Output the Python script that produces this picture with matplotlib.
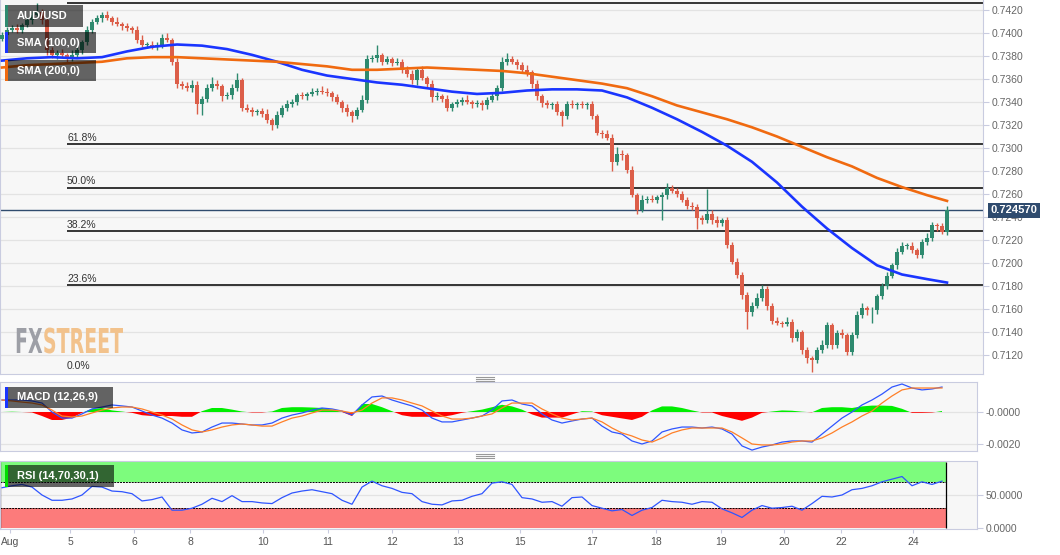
import numpy as np
import matplotlib.pyplot as plt
from matplotlib.patches import Rectangle, PathPatch
from matplotlib.lines import Line2D
from matplotlib.textpath import TextPath
from matplotlib.font_manager import FontProperties
import matplotlib.transforms as mtrans

plt.rcParams['font.family'] = ['Liberation Sans', 'DejaVu Sans']

# AUD/USD candles (closes, in pips = price * 1e4), open = previous close
first_open = 7395
close_pips = [
    7398, 7403, 7404, 7403, 7407, 7411, 7416, 7418, 7411, 7385,
    7381, 7383, 7381, 7378, 7381, 7385, 7392, 7403, 7410, 7413,
    7416, 7413, 7410, 7408, 7406, 7404, 7403, 7394, 7390, 7390,
    7388, 7390, 7396, 7394, 7375, 7356, 7354, 7352, 7355, 7338,
    7343, 7352, 7356, 7354, 7345, 7346, 7352, 7359, 7335, 7333,
    7331, 7332, 7330, 7324, 7320, 7329, 7335, 7338, 7340, 7346,
    7345, 7347, 7349, 7350, 7349, 7348, 7344, 7340, 7335, 7331,
    7328, 7333, 7342, 7377, 7378, 7381, 7375, 7377, 7374, 7375,
    7368, 7364, 7359, 7368, 7361, 7356, 7344, 7345, 7343, 7335,
    7338, 7340, 7342, 7340, 7338, 7339, 7337, 7342, 7345, 7352,
    7375, 7377, 7375, 7372, 7368, 7366, 7356, 7345, 7339, 7337,
    7338, 7331, 7328, 7338, 7337, 7338, 7337, 7338, 7328, 7313,
    7312, 7309, 7288, 7295, 7294, 7281, 7259, 7246, 7255, 7256,
    7255, 7257, 7259, 7265, 7263, 7260, 7255, 7250, 7249, 7239,
    7237, 7243, 7237, 7235, 7237, 7216, 7201, 7190, 7172, 7157,
    7163, 7170, 7177, 7163, 7150, 7148, 7147, 7149, 7135, 7140,
    7124, 7117, 7116, 7124, 7129, 7146, 7129, 7139, 7137, 7123,
    7137, 7155, 7161, 7159, 7159, 7171, 7180, 7189, 7198, 7210,
    7215, 7215, 7211, 7207, 7218, 7222, 7233, 7232, 7227, 7246,
]
wick_up = [
    3, 2, 3, 4, 2, 3, 3, 8, 3, 2,
    3, 2, 3, 2, 4, 3, 2, 3, 2, 3,
    2, 3, 2, 4, 2, 3, 2, 3, 4, 2,
    3, 2, 3, 4, 2, 3, 2, 3, 4, 3,
    2, 4, 6, 3, 2, 3, 4, 6, 2, 3,
    3, 2, 3, 4, 2, 3, 2, 4, 3, 2,
    3, 2, 3, 2, 4, 3, 2, 3, 2, 3,
    2, 3, 4, 4, 3, 9, 2, 3, 2, 3,
    2, 3, 4, 2, 3, 2, 3, 4, 2, 3,
    2, 3, 2, 4, 2, 3, 3, 2, 3, 3,
    4, 6, 3, 2, 3, 4, 2, 3, 2, 3,
    2, 3, 2, 3, 4, 2, 3, 2, 3, 2,
    3, 4, 3, 6, 3, 2, 3, 2, 4, 2,
    3, 2, 3, 5, 3, 2, 3, 2, 3, 2,
    3, 21, 3, 4, 2, 3, 2, 3, 2, 3,
    3, 4, 4, 3, 2, 3, 2, 4, 2, 3,
    2, 3, 2, 3, 4, 3, 2, 3, 4, 2,
    3, 3, 4, 2, 3, 2, 3, 3, 2, 3,
    3, 2, 3, 2, 3, 4, 3, 2, 3, 4,
]
wick_dn = [
    2, 3, 2, 3, 3, 2, 3, 2, 3, 4,
    3, 4, 2, 3, 2, 3, 3, 2, 3, 2,
    3, 2, 3, 2, 3, 2, 3, 3, 2, 3,
    2, 3, 3, 2, 3, 4, 3, 2, 3, 8,
    9, 3, 2, 3, 4, 2, 3, 2, 3, 2,
    3, 2, 3, 2, 4, 3, 2, 3, 2, 3,
    2, 3, 2, 3, 2, 3, 3, 2, 4, 3,
    5, 3, 2, 3, 2, 3, 3, 2, 3, 2,
    3, 2, 3, 4, 2, 3, 4, 2, 3, 3,
    3, 2, 3, 2, 3, 2, 4, 3, 2, 3,
    2, 3, 2, 3, 2, 3, 4, 3, 3, 2,
    3, 2, 9, 3, 2, 3, 2, 3, 3, 2,
    3, 2, 8, 3, 4, 3, 2, 3, 2, 3,
    2, 3, 20, 3, 2, 3, 2, 3, 3, 9,
    3, 2, 3, 4, 3, 3, 2, 3, 3, 14,
    3, 2, 3, 4, 3, 2, 3, 2, 4, 3,
    3, 4, 11, 3, 2, 3, 4, 3, 2, 3,
    3, 2, 3, 4, 11, 3, 2, 3, 2, 3,
    2, 3, 2, 3, 3, 2, 3, 4, 2, 3,
]

# moving averages, one value every 5 candles (last one on the last candle)
sma100_pips = [7376, 7378, 7379, 7378, 7379, 7384, 7388, 7390, 7389, 7386,
               7381, 7375, 7368, 7363, 7360, 7357, 7355, 7352, 7349, 7347,
               7348, 7350, 7351, 7351, 7350, 7344, 7335, 7325, 7314, 7302,
               7288, 7270, 7249, 7230, 7213, 7198, 7190, 7186, 7183]
sma200_pips = [7370, 7372, 7373, 7374, 7375, 7378, 7379, 7379, 7378, 7377,
               7376, 7375, 7373, 7371, 7368, 7368, 7369, 7370, 7369, 7368,
               7367, 7365, 7362, 7359, 7356, 7352, 7345, 7337, 7331, 7325,
               7318, 7310, 7301, 7292, 7284, 7274, 7266, 7259, 7254]

# indicators, one value every 2 candles (MACD values x 1e-4)
macd_line = [7.5, 7.5, 7.5, 6.9, 5.6, 0, -3.8, -3.8, -1.2, 1.9,
             3.1, 4.4, 3.8, 3.1, 0.6, -1.9, -3.8, -6.9, -11.2, -13.1,
             -12.5, -9.4, -6.9, -6.9, -7.5, -8.1, -8.1, -6.9, -3.8, -1.9,
             -0.6, 1.2, 2.5, 1.9, 0.6, -1.9, 4.4, 9.4, 10.0, 7.5,
             5.6, 3.8, 1.2, -3.8, -6.2, -6.2, -5.0, -3.8, -2.5, 1.2,
             6.9, 7.5, 5.0, 3.8, -1.2, -5.0, -6.9, -5.6, -4.4, -3.8,
             -8.8, -12.5, -13.8, -18.1, -20.0, -18.1, -12.5, -10.6, -9.4, -9.4,
             -10.0, -9.4, -10.6, -13.8, -21.2, -23.8, -21.9, -20.6, -18.8, -18.1,
             -18.1, -18.8, -13.8, -8.8, -3.8, 0, 4.4, 7.5, 11.2, 15.6,
             17.5, 15.0, 13.8, 14.4, 15.6]
signal_line = [7.5, 6.9, 6.2, 5.6, 4.4, 1.2, -2.5, -3.1, -2.5, -0.6,
               1.2, 2.5, 3.1, 3.1, 1.9, 0, -1.9, -4.4, -8.1, -11.2,
               -12.5, -11.2, -9.4, -8.1, -7.5, -8.1, -8.8, -8.8, -6.2, -3.8,
               -2.5, -0.6, 1.2, 1.2, 0.6, -0.6, 1.2, 5.6, 8.8, 8.8,
               7.5, 5.6, 3.8, 0.6, -2.5, -4.4, -4.4, -3.8, -2.5, -1.2,
               2.5, 5.6, 5.6, 5.6, 1.9, -1.2, -3.8, -5.0, -4.4, -3.8,
               -6.2, -10.0, -13.1, -15.0, -17.5, -18.8, -16.2, -13.1, -11.2, -10.0,
               -10.0, -10.0, -10.0, -12.5, -16.2, -20.0, -20.6, -20.6, -20.0, -18.8,
               -18.1, -18.1, -16.2, -13.1, -9.4, -6.2, -2.5, 0.6, 5.6, 10.0,
               13.8, 15.0, 15.0, 15.0, 15.0]
macd_hist = [0, 0.2, 0, -0.3, -2.5, -5.0, -5.0, -3.5, -0.5, 2.0,
             2.5, 1.0, 0.3, -0.5, -2.0, -2.5, -2.5, -2.5, -3.0, -3.0,
             0.5, 2.5, 2.5, 1.5, 0.3, -0.3, -0.3, 0.3, 2.5, 3.0,
             3.0, 2.8, 2.5, 1.5, 0, -2.5, 5.0, 5.0, 3.0, 0.5,
             -2.0, -3.0, -3.0, -3.0, -3.0, -2.0, -0.5, 0.5, 1.5, 3.0,
             4.5, 3.5, 1.5, -1.5, -3.5, -3.5, -3.5, -1.5, 0.5, 0.3,
             -2.0, -3.0, -4.0, -5.0, -3.0, 1.0, 3.5, 3.5, 2.5, 1.0,
             -0.3, -0.3, -2.5, -4.0, -5.5, -3.5, -0.5, 0.3, 1.0, 0.8,
             0.2, -0.2, 2.5, 3.0, 3.0, 2.5, 3.5, 4.0, 4.0, 3.8,
             2.0, -0.5, -0.5, -0.3, 0.5]
rsi = [61, 64, 66, 62, 50, 42, 42, 44, 50, 63,
       62, 56, 55, 52, 41, 43, 47, 27, 27, 30,
       36, 45, 40, 49, 40, 40, 38, 37, 46, 53,
       56, 58, 55, 52, 42, 36, 62, 71, 64, 60,
       54, 52, 40, 36, 35, 41, 42, 48, 52, 68,
       70, 66, 46, 44, 39, 40, 33, 46, 47, 34,
       30, 26, 28, 19, 27, 31, 42, 40, 39, 36,
       40, 39, 29, 23, 16, 27, 34, 30, 31, 33,
       27, 37, 48, 47, 50, 58, 60, 64, 70, 74,
       78, 64, 70, 66, 71]

fib_low = 0.7105
fib_high = 0.7426
fib_levels = [0.0, 0.236, 0.382, 0.5, 0.618, 1.0]
last_price = 0.72457

day_labels = ['Aug', '5', '6', '8', '10', '11', '12', '13', '15', '17', '18', '19', '20', '22', '24']
day_pos = [1.6, 13.6, 26.4, 37.6, 52.2, 65.2, 78, 91.2, 103.6, 118, 130.8, 143.8, 156.4, 167.8, 182.2]

# ---------------------------------------------------------------
close = np.array(close_pips) / 1e4
opn = np.concatenate([[first_open], close_pips[:-1]]) / 1e4
high = np.maximum(opn, close) + np.array(wick_up) / 1e4
low = np.minimum(opn, close) - np.array(wick_dn) / 1e4
idx = np.arange(len(close))

sma_x = list(range(0, len(close), 5)) + [len(close) - 1]
ind_x = np.arange(0, 2 * len(rsi), 2)

W, H = 1060, 555
fig = plt.figure(figsize=(W / 100, H / 100), dpi=100)
fig.patch.set_facecolor('white')


def px_box(x0, y0, x1, y1):
    return [x0 / W, 1 - y1 / H, (x1 - x0) / W, (y1 - y0) / H]


ax = fig.add_axes(px_box(0, 0, 983, 374))
axm = fig.add_axes(px_box(0, 382, 977, 451))
axr = fig.add_axes(px_box(0, 461, 977, 529))

border = '#c9cce0'
tick_col = '#666666'
grid_col = '#e3e3e3'
for a in (ax, axm, axr):
    a.set_facecolor('#f7f7f7')
    for s in a.spines.values():
        s.set_color(border)
    a.yaxis.tick_right()
    a.tick_params(axis='y', colors=border, labelcolor=tick_col, labelsize=7.5, length=4, pad=2)
    a.tick_params(axis='x', bottom=False, labelbottom=False)
ax.spines['top'].set_visible(False)

# ---- price panel
ax.set_xlim(-0.4, 196.2)
ax.set_ylim(0.710348, 0.742870)
yt = np.arange(0.7120, 0.74201, 0.002)
ax.set_yticks(yt)
ax.set_yticklabels(['%.4f' % v for v in yt])
for v in yt:
    ax.axhline(v, color=grid_col, lw=0.9, zorder=0)

up = close >= opn
cols = np.where(up, '#2e8a6f', '#dc5e49')
ax.vlines(idx, low, high, colors=cols, lw=1, zorder=3)
body = np.maximum(np.abs(close - opn), 0.00004)
ax.bar(idx, body, bottom=np.minimum(opn, close), width=0.62, color=cols, lw=0, zorder=4)

ax.plot(sma_x, np.array(sma100_pips) / 1e4, color='#1a35ff', lw=1.9, zorder=5)
ax.plot(sma_x, np.array(sma200_pips) / 1e4, color='#f06a10', lw=1.9, zorder=5)

for f in fib_levels:
    lvl = fib_low + f * (fib_high - fib_low)
    if f > 0:
        ax.hlines(lvl, 13, 196.2, color='black', lw=1.1, zorder=2)
    if f < 1:
        ax.text(13, lvl + 0.00012, '%.1f%%' % (f * 100), fontsize=7.5, color='#333333',
                va='bottom', ha='left', zorder=6)

ax.axhline(last_price, color='#2f4b6e', lw=1, zorder=2)
tr = mtrans.blended_transform_factory(ax.transAxes, ax.transData)
ax.text(1.008, last_price, '%.6f' % last_price, transform=tr, color='white', fontsize=8,
        fontweight='bold', va='center', ha='left', clip_on=False, zorder=10,
        bbox=dict(boxstyle='square,pad=0.22', fc='#2f4b6e', ec='none'))

# watermark, squeezed to the narrow logo shape (pixel coords)
fp = FontProperties(family='DejaVu Sans', weight='bold')
p_fx = TextPath((0, 0), 'FX', size=30, prop=fp)
fx_w = p_fx.get_extents().x1 + 1
p_st = TextPath((fx_w, 0), 'STREET', size=30, prop=fp)
full_w = p_st.get_extents().x1
cap_h = p_fx.get_extents().y1
logo = mtrans.Affine2D().scale(108 / full_w, 25 / cap_h).translate(15, H - 353)
fig.add_artist(PathPatch(p_fx, transform=logo, fc='#9d9fa6', ec='none', zorder=9))
fig.add_artist(PathPatch(p_st, transform=logo, fc='#f2c28c', ec='none', zorder=9))

# ---- MACD panel
axm.set_xlim(-0.4, 195)
axm.set_ylim(-0.0024375, 0.001875)
axm.set_yticks([0, -0.002])
axm.set_yticklabels(['-0.0000', '-0.0020'])
for v in (0, -0.002):
    axm.axhline(v, color=grid_col, lw=0.9, zorder=0)
hist = np.array(macd_hist) / 1e4
axm.fill_between(ind_x, 0, hist, where=hist >= 0, interpolate=True, color='#00ee00', lw=0, zorder=2)
axm.fill_between(ind_x, 0, hist, where=hist <= 0, interpolate=True, color='#ff0000', lw=0, zorder=2)
axm.plot(ind_x, np.array(macd_line) / 1e4, color='#2f55ff', lw=0.9, zorder=3)
axm.plot(ind_x, np.array(signal_line) / 1e4, color='#ff7f27', lw=0.9, zorder=3)

# ---- RSI panel
axr.set_xlim(-0.4, 195)
axr.set_ylim(-1.5, 101.5)
axr.set_yticks([0, 50])
axr.set_yticklabels(['0.0000', '50.0000'])
axr.axhline(50, color=grid_col, lw=0.9, zorder=0)
xe = [-0.4, 188.8]
axr.fill_between(xe, 70, 100, color='#7dfc7d', lw=0, zorder=1)
axr.fill_between(xe, 0, 30, color='#fc7b7b', lw=0, zorder=1)
axr.hlines([70, 30], xe[0], xe[1], colors='black', lw=0.7, linestyles=(0, (2, 1)), zorder=2)
axr.vlines(xe, 0, 100, colors='black', lw=0.9, zorder=2)
axr.plot(ind_x, rsi, color='#2f55ff', lw=0.9, zorder=3)
axr.set_xticks(day_pos)
axr.set_xticklabels(day_labels)
axr.tick_params(axis='x', bottom=True, labelbottom=True, colors=border, labelcolor='#555555',
                labelsize=7.5, length=3, pad=3)

# ---- legend boxes
def label_box(x0, y0, x1, y1, strip, text):
    fig.add_artist(Rectangle((x0 / W, 1 - y1 / H), (x1 - x0) / W, (y1 - y0) / H,
                             transform=fig.transFigure, fc='black', alpha=0.6, ec='none', zorder=10))
    fig.add_artist(Rectangle((x0 / W, 1 - y1 / H), 3 / W, (y1 - y0) / H,
                             transform=fig.transFigure, fc=strip, ec='none', zorder=11))
    fig.text((x0 + 12) / W, 1 - ((y0 + y1) / 2) / H, text, color='white', fontsize=8,
             fontweight='bold', va='center', ha='left', zorder=12)


label_box(5, 5, 83, 27, '#2e8a6f', 'AUD/USD')
label_box(5, 32, 96, 53, '#1a35ff', 'SMA (100,0)')
label_box(5, 60, 96, 81, '#f06a10', 'SMA (200,0)')
label_box(5, 387, 113, 408, '#1a35ff', 'MACD (12,26,9)')
label_box(5, 465, 114, 487, '#00dd00', 'RSI (14,70,30,1)')

# panel handles
for y0 in (377, 454):
    for k in range(3):
        yy = 1 - (y0 + 2 * k) / H
        fig.add_artist(Line2D([476 / W, 494 / W], [yy, yy], transform=fig.transFigure,
                              color='#999999', lw=0.8))

fig.savefig('out.png', dpi=100)
